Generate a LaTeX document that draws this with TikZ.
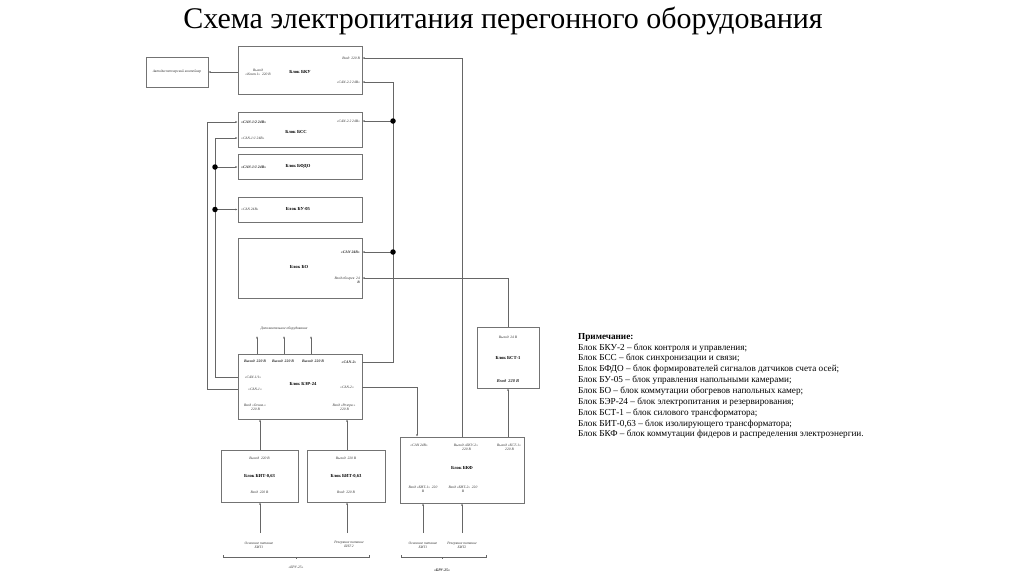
\documentclass[tikz,border=0pt]{standalone}
\usepackage{fontspec}
\setmainfont{Liberation Serif}
\usetikzlibrary{arrows.meta,calc}
\begin{document}
\begin{tikzpicture}[x=1pt,y=-1pt,
  box/.style={draw=black!55, line width=0.6pt, inner sep=0, fill=white},
  lbl/.style={font=\fontsize{3.6}{4}\selectfont\itshape, inner sep=0, align=center, text=black!80},
  blbl/.style={font=\fontsize{3.8}{4.2}\selectfont\bfseries\itshape, inner sep=0, align=center, text=black!85},
  ttl/.style={font=\fontsize{4.6}{5}\selectfont\bfseries, inner sep=0},
  wire/.style={draw=black!60, line width=0.6pt},
  arr/.style={wire, -{Latex[length=2.4pt,width=2pt]}},
  jdot/.style={circle, fill=black, inner sep=0, minimum size=5.5pt}]
\useasboundingbox (0,0) rectangle (1024,574);
% title
\node[font=\fontsize{30}{31}\selectfont, inner sep=0] (title) at (503,21) {Схема электропитания перегонного оборудования};
% boxes
\node[box, minimum width=62, minimum height=30] (adc) at (177,72) {};
\node[box, minimum width=124, minimum height=48] (bku) at (300,70) {};
\node[box, minimum width=124, minimum height=35] (bss) at (300,129.5) {};
\node[box, minimum width=124, minimum height=25] (bfdo) at (300,166.5) {};
\node[box, minimum width=124, minimum height=25] (bu) at (300,209.5) {};
\node[box, minimum width=124, minimum height=60] (bo) at (300,268) {};
\node[box, minimum width=124, minimum height=65] (ber) at (300,386.5) {};
\node[box, minimum width=77, minimum height=52] (bit1) at (259.5,476) {};
\node[box, minimum width=78, minimum height=52] (bit2) at (346,476) {};
\node[box, minimum width=62, minimum height=61] (bst) at (508,357.5) {};
\node[box, minimum width=124, minimum height=66] (bkf) at (462,470) {};
% labels: adc
\node[lbl] (ladc) at (177,72) {Автодиспетчерский контейнер};
% bku
\node[ttl] (tbku) at (300,72) {Блок БКУ};
\node[lbl] (lbkuout) at (258,72) {Выход\\«Конт.1» ~220 В};
\node[lbl, anchor=east] (lbkuin) at (360,58) {Вход ~220 В};
\node[lbl, anchor=east] (lbkucan) at (360,82) {«CAN-2.2 24В»};
% bss
\node[ttl] (tbss) at (296,132) {Блок БСС};
\node[blbl, anchor=west] (lbss1) at (241,122) {«CAN-1/2 24В»};
\node[lbl, anchor=west] (lbss2) at (241,138) {«CAN-1/1 24В»};
\node[lbl, anchor=east] (lbsscan) at (360,121) {«CAN-2.2 24В»};
% bfdo
\node[ttl] (tbfdo) at (298,166) {Блок БФДО};
\node[blbl, anchor=west] (lbfdo) at (241,167) {«CAN-1/1 24В»};
% bu
\node[ttl] (tbu) at (298,209) {Блок БУ-05};
\node[lbl, anchor=west] (lbu) at (241,209.5) {«CAN 24В»};
% bo
\node[ttl] (tbo) at (299,267) {Блок БО};
\node[blbl, anchor=east] (lbocan) at (360,252) {«CAN 24В»};
\node[lbl, anchor=east, align=right] (lboin) at (360,280) {Вход обогрев ~24\\[-0.5pt]\textbf{В}};
\coordinate (boinY) at (0,278);
% additional equipment
\node[lbl] (ldop) at (284,329) {Дополнительное оборудование};
\coordinate (dop1) at (257,336);
\coordinate (dop2) at (284,336);
\coordinate (dop3) at (311,336);
% ber
\node[ttl] (tber) at (303,384) {Блок БЭР-24};
\node[blbl] (lberout1) at (255,361) {Выход ~220 В};
\node[blbl] (lberout2) at (283,361) {Выход ~220 В};
\node[blbl] (lberout3) at (313,361) {Выход ~220 В};
\node[blbl] (lbercan2a) at (349,362) {«CAN-2»};
\node[lbl] (lbercan11) at (253,377) {«CAN-1/1»};
\node[lbl] (lbercan1) at (255,389) {«CAN-1»};
\node[lbl] (lbercan2b) at (347,387) {«CAN-2»};
\node[lbl] (lberin1) at (255,407.5) {Вход «Основ.»\\~220 В};
\node[lbl] (lberin2) at (344,407.5) {Вход «Резерв.»\\~220 В};
% bit
\node[lbl] (lbit1o) at (259.5,458) {Выход ~220 В};
\node[ttl] (tbit1) at (259.5,476) {Блок БИТ-0,63};
\node[lbl] (lbit1i) at (259.5,492) {Вход ~220 В};
\node[lbl] (lbit2o) at (346,458) {Выход ~220 В};
\node[ttl] (tbit2) at (346,476) {Блок БИТ-0,63};
\node[lbl] (lbit2i) at (346,492) {Вход ~220 В};
\node[lbl] (lsrc1) at (259,545) {Основное питание\\БИТ1};
\node[lbl] (lsrc2) at (349,544) {Резервное питание\\БИТ 2};
\node[lbl] (lbru1) at (296,567) {«БРУ-25»};
% bst
\node[lbl] (lbsto) at (508,337) {Выход ~24 В};
\node[ttl] (tbst) at (508,358) {Блок БСТ-1};
\node[blbl, font=\fontsize{4.4}{5}\selectfont\bfseries\itshape] (lbsti) at (508,381) {Вход ~220 В};
% bkf
\node[ttl] (tbkf) at (462,468) {Блок БКФ};
\node[lbl] (lbkfcan) at (419,445) {«CAN 24В»};
\node[lbl] (lbkfo1) at (466,447.5) {Выход «БКУ-2»\\~220 В};
\node[lbl] (lbkfo2) at (509,447.5) {Выход «БСТ-1»\\~220 В};
\node[lbl] (lbkfi1) at (423,489.5) {Вход «БИТ-1» ~220\\В};
\node[lbl] (lbkfi2) at (463,489.5) {Вход «БИТ-2» ~220\\В};
\node[lbl] (lsrc3) at (423,545) {Основное питание\\БИТ1};
\node[lbl] (lsrc4) at (462,545) {Резервное питание\\БИТ2};
\node[blbl] (lbru2) at (442,570) {«БРУ-25»};
% note
\node[anchor=north west, inner sep=0, align=left, font=\fontsize{9.2}{10.85}\selectfont] (note) at (578,333) {\textbf{Примечание:}\\
Блок БКУ-2 – блок контроля и управления;\\
Блок БСС – блок синхронизации и связи;\\
Блок БФДО – блок формирователей сигналов датчиков счета осей;\\
Блок БУ-05 – блок управления напольными камерами;\\
Блок БО – блок коммутации обогревов напольных камер;\\
Блок БЭР-24 – блок электропитания и резервирования;\\
Блок БСТ-1 – блок силового трансформатора;\\
Блок БИТ-0,63 – блок изолирующего трансформатора;\\
Блок БКФ – блок коммутации фидеров и распределения электроэнергии.};
% bus coordinates
\coordinate (busR) at (393,0);
\coordinate (busK) at (417,0);
\coordinate (busL1) at (207,0);
\coordinate (busL2) at (215,0);
\coordinate (src1) at (260,533);
\coordinate (src2) at (347,533);
\coordinate (src3) at (423,533);
\coordinate (src4) at (462,533);
% connectors
\draw[arr] (bku.west |- lbkuout) -- (adc.east);
\draw[arr] (bkf.north) -- (bkf.north |- lbkuin) -- (bku.east |- lbkuin);
\draw[arr] (bkf.north -| bst) -- (bst.south);
\draw[arr] (bst.north) -- (bst.north |- boinY) -- (bo.east |- boinY);
% right CAN bus
\draw[wire] (ber.east |- lbercan2a) -- (busR |- lbercan2a) -- (busR |- lbkucan);
\draw[arr] (busR |- lbkucan) -- (bku.east |- lbkucan);
\draw[arr] (busR |- lbsscan) -- (bss.east |- lbsscan);
\draw[arr] (busR |- lbocan) -- (bo.east |- lbocan);
\node[jdot] (jr1) at (busR |- lbsscan) {};
\node[jdot] (jr2) at (busR |- lbocan) {};
% CAN-2 to bkf
\draw[arr] (ber.east |- lbercan2b) -- (busK |- lbercan2b) -- (busK |- bkf.north);
% left CAN bus
\draw[arr] (ber.west |- lbercan1) -- (busL1 |- lbercan1) -- (busL1 |- lbss1) -- (bss.west |- lbss1);
\draw[arr] (ber.west |- lbercan11) -- (busL2 |- lbercan11) -- (busL2 |- lbss2) -- (bss.west |- lbss2);
\draw[arr] (busL2 |- lbfdo) -- (bfdo.west |- lbfdo);
\draw[arr] (busL2 |- lbu) -- (bu.west |- lbu);
\node[jdot] (jl1) at (busL2 |- lbfdo) {};
\node[jdot] (jl2) at (busL2 |- lbu) {};
% additional equipment
\draw[arr] (ber.north -| dop1) -- (dop1);
\draw[arr] (ber.north -| dop2) -- (dop2);
\draw[arr] (ber.north -| dop3) -- (dop3);
% BIT to BER
\draw[arr] (bit1.north -| src1) -- (ber.south -| src1);
\draw[arr] (bit2.north -| src2) -- (ber.south -| src2);
% inputs
\draw[arr] (src1) -- (bit1.south -| src1);
\draw[arr] (src2) -- (bit2.south -| src2);
\draw[arr] (src3) -- (bkf.south -| src3);
\draw[arr] (src4) -- (bkf.south -| src4);
% braces
\coordinate (br1a) at (223,557);
\coordinate (br1b) at (369,557);
\coordinate (br1m) at (296,557);
\coordinate (br2a) at (401,557);
\coordinate (br2b) at (486,557);
\coordinate (br2m) at (442,557);
\draw[wire, line width=0.5pt] ($(br1a)+(0,-2)$) -- (br1a) -- (br1b) -- ($(br1b)+(0,-2)$);
\draw[wire, line width=0.5pt] (br1m) -- ($(br1m)+(0,1.5)$);
\draw[wire, line width=0.5pt] ($(br2a)+(0,-2)$) -- (br2a) -- (br2b) -- ($(br2b)+(0,-2)$);
\draw[wire, line width=0.5pt] (br2m) -- ($(br2m)+(0,1.5)$);
\end{tikzpicture}
\end{document}
